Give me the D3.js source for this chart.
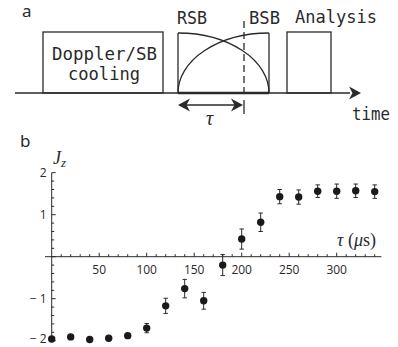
<!DOCTYPE html>
<html>
<head>
<meta charset="utf-8">
<script src="https://cdn.jsdelivr.net/npm/d3@7"></script>
<style>
body { margin: 0; background: #fff; }
svg { display: block; }
</style>
</head>
<body>
<script>
// panel b data
var tau = [0, 20, 40, 60, 80, 100, 120, 140, 160, 180, 200, 220, 240, 260, 280, 300, 320, 340];
var jz = [-1.96, -1.91, -1.97, -1.94, -1.88, -1.70, -1.17, -0.76, -1.05, -0.20, 0.42, 0.82, 1.43, 1.42, 1.56, 1.56, 1.57, 1.55];
var jzErr = [0.04, 0.04, 0.04, 0.04, 0.05, 0.11, 0.18, 0.22, 0.20, 0.25, 0.24, 0.22, 0.17, 0.17, 0.15, 0.17, 0.16, 0.16];
var xTickLabels = [50, 100, 150, 200, 250, 300];
var yTickLabels = [-2, -1, 1, 2];

// panel a labels
var pulseLabels = ["RSB", "BSB", "Analysis"];

var w = 398, h = 347;
var svg = d3.select("body").append("svg").attr("width", w).attr("height", h);

var ink = "#2a2a2a";
var mono = "'DejaVu Sans Mono', monospace";

// ---------- panel a : pulse sequence ----------
var a = svg.append("g");
a.append("text").text("a").attr("x", 22).attr("y", 17)
  .attr("font-family", "'Noto Sans', sans-serif").attr("font-size", 17).attr("fill", ink);

// time line
a.append("line").attr("x1", 15).attr("x2", 350).attr("y1", 93).attr("y2", 93)
  .attr("stroke", ink).attr("stroke-width", 1.3);
// thick part under the RSB/BSB pulse
a.append("line").attr("x1", 178).attr("x2", 269).attr("y1", 93).attr("y2", 93)
  .attr("stroke", ink).attr("stroke-width", 2.6);

function arrowHead(g, x, y, dir) {
  // dir = 1 points right, -1 points left
  var p = "M" + x + "," + y +
    " L" + (x - dir * 12) + "," + (y - 6.5) +
    " L" + (x - dir * 8.5) + "," + y +
    " L" + (x - dir * 12) + "," + (y + 6.5) + " Z";
  g.append("path").attr("d", p).attr("fill", ink);
}
arrowHead(a, 361, 93, 1);

// Doppler / SB cooling box
a.append("rect").attr("x", 43).attr("y", 32).attr("width", 120).attr("height", 61)
  .attr("fill", "none").attr("stroke", ink).attr("stroke-width", 1.3);
a.append("text").text("Doppler/SB").attr("x", 52).attr("y", 60)
  .attr("textLength", 105).attr("lengthAdjust", "spacingAndGlyphs")
  .attr("font-family", mono).attr("font-size", 18).attr("fill", ink);
a.append("text").text("cooling").attr("x", 68).attr("y", 80)
  .attr("textLength", 72).attr("lengthAdjust", "spacingAndGlyphs")
  .attr("font-family", mono).attr("font-size", 18).attr("fill", ink);

// RSB / BSB pulse
a.append("line").attr("x1", 178).attr("x2", 178).attr("y1", 33).attr("y2", 93)
  .attr("stroke", ink).attr("stroke-width", 1.3);
a.append("line").attr("x1", 269).attr("x2", 269).attr("y1", 33).attr("y2", 93)
  .attr("stroke", ink).attr("stroke-width", 1.3);
a.append("path").attr("d", "M178,93 A91,60 0 0,1 269,33")
  .attr("fill", "none").attr("stroke", ink).attr("stroke-width", 1.3);
a.append("path").attr("d", "M178,33 A91,60 0 0,1 269,93")
  .attr("fill", "none").attr("stroke", ink).attr("stroke-width", 1.3);
a.append("line").attr("x1", 244).attr("x2", 244).attr("y1", 21).attr("y2", 93)
  .attr("stroke", ink).attr("stroke-width", 1.3).attr("stroke-dasharray", "7,4");

// Analysis box
a.append("rect").attr("x", 287).attr("y", 32).attr("width", 44).attr("height", 61)
  .attr("fill", "none").attr("stroke", ink).attr("stroke-width", 1.3);

var labelPos = [[177, 24, 30], [249, 24, 31], [295, 23, 82]];
a.selectAll("text.pulse").data(pulseLabels).enter().append("text")
  .attr("class", "pulse").text(function(d) { return d; })
  .attr("x", function(d, i) { return labelPos[i][0]; })
  .attr("y", function(d, i) { return labelPos[i][1]; })
  .attr("textLength", function(d, i) { return labelPos[i][2]; })
  .attr("lengthAdjust", "spacingAndGlyphs")
  .attr("font-family", mono).attr("font-size", 18).attr("fill", ink);

a.append("text").text("time").attr("x", 352).attr("y", 120)
  .attr("textLength", 38).attr("lengthAdjust", "spacingAndGlyphs")
  .attr("font-family", mono).attr("font-size", 18).attr("fill", ink);

// tau double arrow
a.append("line").attr("x1", 184).attr("x2", 238).attr("y1", 105).attr("y2", 105)
  .attr("stroke", ink).attr("stroke-width", 1.3);
arrowHead(a, 178, 105, -1);
arrowHead(a, 243, 105, 1);
a.append("line").attr("x1", 244).attr("x2", 244).attr("y1", 100).attr("y2", 114)
  .attr("stroke", ink).attr("stroke-width", 1.3);
a.append("text").text("τ").attr("x", 206).attr("y", 125)
  .attr("font-family", "'Liberation Serif', serif").attr("font-style", "italic")
  .attr("font-size", 20).attr("fill", ink);

// ---------- panel b : Jz vs tau ----------
var b = svg.append("g");
b.append("text").text("b").attr("x", 20).attr("y", 147)
  .attr("font-family", "'Noto Sans', sans-serif").attr("font-size", 17).attr("fill", ink);

var x = d3.scaleLinear().domain([0, 300]).range([51.7, 336.7]);
var y = d3.scaleLinear().domain([-2, 2]).range([340.7, 172.7]);
var sans = "'Open Sans', sans-serif";

// x axis at Jz = 0, ticks pointing up
var xAxis = b.append("g").attr("transform", "translate(0," + y(0) + ")");
xAxis.append("line").attr("x1", 45).attr("x2", x(347)).attr("stroke", ink).attr("stroke-width", 1);
xAxis.selectAll("line.tk").data(d3.range(10, 341, 10)).enter().append("line")
  .attr("class", "tk")
  .attr("x1", function(d) { return x(d); }).attr("x2", function(d) { return x(d); })
  .attr("y1", 0).attr("y2", function(d) { return d % 50 === 0 ? -4 : -2.5; })
  .attr("stroke", ink).attr("stroke-width", 1);
xAxis.selectAll("text").data(xTickLabels).enter().append("text")
  .text(function(d) { return d; })
  .attr("x", function(d) { return x(d); }).attr("y", 17.5)
  .attr("text-anchor", "middle").attr("font-family", sans).attr("font-size", 12).attr("fill", ink);

// y axis at tau = 0, ticks pointing right
var yAxis = b.append("g").attr("transform", "translate(" + x(0) + ",0)");
yAxis.append("line").attr("y1", y(2)).attr("y2", y(-2)).attr("stroke", ink).attr("stroke-width", 1);
yAxis.selectAll("line.tk").data(d3.range(-10, 11).map(function(d) { return d / 5; }))
  .enter().append("line").attr("class", "tk")
  .attr("y1", function(d) { return y(d); }).attr("y2", function(d) { return y(d); })
  .attr("x1", 0).attr("x2", function(d) { return Math.abs(d - Math.round(d)) < 1e-6 ? 4 : 2.5; })
  .attr("stroke", ink).attr("stroke-width", 1);
yAxis.selectAll("text").data(yTickLabels).enter().append("text")
  .text(function(d) { return d < 0 ? "\u2212 " + (-d) : d; })
  .attr("x", -5).attr("y", function(d) { return d === -2 ? 343 : y(d) + 4.5; })
  .attr("text-anchor", "end").attr("font-family", sans).attr("font-size", 12).attr("fill", ink);

// axis titles
var jl = b.append("text").attr("x", 53).attr("y", 164)
  .attr("font-family", "'Liberation Serif', serif").attr("fill", ink);
jl.append("tspan").text("J").attr("font-style", "italic").attr("font-size", 18);
jl.append("tspan").text("z").attr("font-style", "italic").attr("font-size", 13).attr("dy", 3);

var tl = b.append("text").attr("x", 337).attr("y", 246)
  .attr("font-family", "'Liberation Serif', serif").attr("font-size", 18).attr("fill", ink);
tl.append("tspan").text("τ").attr("font-style", "italic");
tl.append("tspan").text(" (");
tl.append("tspan").text("μ").attr("font-style", "italic");
tl.append("tspan").text("s)");

// data points with error bars
var pts = b.selectAll("g.pt").data(tau).enter().append("g").attr("class", "pt");
pts.append("line")
  .attr("x1", function(d) { return x(d); }).attr("x2", function(d) { return x(d); })
  .attr("y1", function(d, i) { return y(jz[i] - jzErr[i]); })
  .attr("y2", function(d, i) { return y(jz[i] + jzErr[i]); })
  .attr("stroke", ink).attr("stroke-width", 1);
[-1, 1].forEach(function(s) {
  pts.append("line")
    .attr("x1", function(d) { return x(d) - 2.2; }).attr("x2", function(d) { return x(d) + 2.2; })
    .attr("y1", function(d, i) { return y(jz[i] + s * jzErr[i]); })
    .attr("y2", function(d, i) { return y(jz[i] + s * jzErr[i]); })
    .attr("stroke", ink).attr("stroke-width", 1);
});
pts.append("circle")
  .attr("cx", function(d) { return x(d); })
  .attr("cy", function(d, i) { return y(jz[i]); })
  .attr("r", 3.7).attr("fill", "#1a1a1a");
</script>
</body>
</html>
